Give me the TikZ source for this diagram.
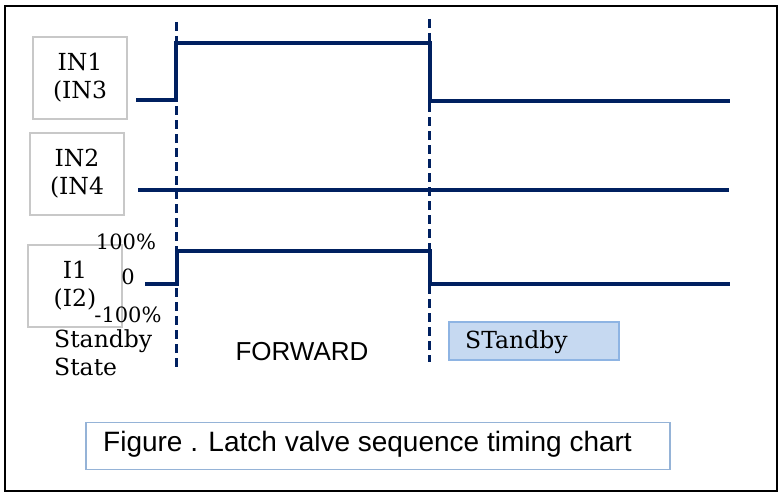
\documentclass[tikz,border=0pt]{standalone}
\usepackage{fontspec}
\setmainfont{DejaVu Serif}
\newfontfamily\arialfont{Liberation Sans}
\definecolor{navy}{HTML}{002060}
\definecolor{boxgray}{HTML}{C8C8C8}
\definecolor{stbfill}{HTML}{C6D9F1}
\definecolor{stbline}{HTML}{8EB4E3}
\definecolor{capline}{HTML}{95B3D7}

\begin{document}
\begin{tikzpicture}[x=1pt,y=-1pt,
    sig/.style={draw=navy,line width=4pt},
    edge/.style={draw=navy,line width=3pt,dash pattern=on 9pt off 5pt},
    lab/.style={draw=boxgray,line width=1.5pt,align=center,inner sep=0pt,
        minimum width=94pt,minimum height=82pt,font=\fontsize{23.5}{28}\selectfont},
    pct/.style={inner sep=0pt,font=\fontsize{21}{22}\selectfont}]
                \useasboundingbox (0,0) rectangle (779,495);
                \draw[line width=1.5pt] (5,6) rectangle (777,491);

                % input boxes
                \node[lab] (in1) at (80,78) {IN1\\(IN3};
                \node[lab] (in2) at (77,174) {IN2\\(IN4};
                \node[lab] (i1) at (75,286) {I1\\(I2)};

                % time marks
                \draw[edge] (176,22) -- (176,370);
                \draw[edge] (429,19) -- (429,362);

                % signals
                \draw[sig] (136,100) -- (176,100) -- (176,43) -- (430,43) -- (430,101) -- (730,101);
                \draw[sig] (138,190) -- (729,190);
                \draw[sig] (145,284) -- (177,284) -- (177,251) -- (430,251) -- (430,284) -- (730,284);

                \node[pct] (hi) at (126,242) {100\%};
                \node[pct] (zero) at (128,277) {0};
                \node[pct] (lo) at (128,315) {-100\%};

                \node[align=left,anchor=north west,inner sep=0pt,font=\fontsize{23.5}{28}\selectfont] (sby) at (54,329) {Standby\\State};
                \node[font=\arialfont\fontsize{26}{28}\selectfont] (fwd) at (302,352) {FORWARD};
                \node[draw=stbline,fill=stbfill,line width=1.5pt,minimum width=170pt,minimum height=38pt] (stb) at (534,341) {};
                \node[anchor=west,inner sep=0pt,font=\fontsize{23.5}{28}\selectfont] (stbtxt) at (465,342) {STandby};

                % caption
                \node[draw=capline,line width=1.5pt,minimum width=584pt,minimum height=47pt] (cap) at (378,446) {};
                \node[anchor=west,inner sep=0pt,font=\arialfont\fontsize{28}{28}\selectfont] (captxt) at (103,444) {Figure . Latch valve sequence timing chart};
            \end{tikzpicture}
\end{document}
